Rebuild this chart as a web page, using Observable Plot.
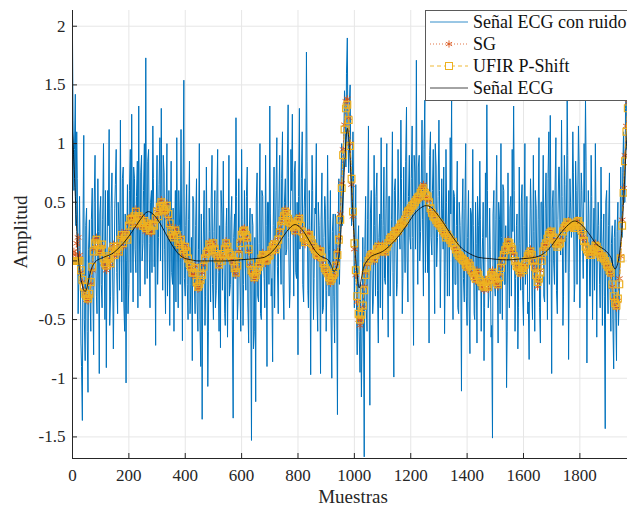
<!DOCTYPE html>
<html>
<head>
<meta charset="utf-8">
<script src="https://cdn.jsdelivr.net/npm/d3@7"></script>
<script src="https://cdn.jsdelivr.net/npm/@observablehq/plot@0.6"></script>
<style>
  body { margin: 0; background: #fff; }
  #wrap { position: relative; width: 627px; height: 506px; overflow: hidden; font-family: "Liberation Serif", "Times New Roman", serif; }
  #overlay { position: absolute; left: 0; top: 0; pointer-events: none; }
</style>
</head>
<body>
<div id="wrap">
  <div id="chart"></div>
  <svg id="overlay" width="627" height="506"></svg>
</div>
<script>
// ---- Data ----
const xTicks = [0, 200, 400, 600, 800, 1000, 1200, 1400, 1600, 1800];
const yTicks = [-1.5, -1, -0.5, 0, 0.5, 1, 1.5, 2];
const xDomain = [0, 1969];
const yDomain = [-1.684, 2.134];

// Noisy ECG: samples 0,5,10,... (noisyA) and 2,7,12,... (noisyB)
const noisyStep = 5;
const noisyA = [
  1.9, 0.6, 1.42, 1.1, -0.45, 0.55, -0.7, -1.36, 1.07, -0.85, 0.45, -1.12, 0.35, -0.6, 0.62, -0.8, 0.9, -0.3, 0.7, -0.96,
  0.55, -0.4, 1.0, -0.5, -0.91, 0.6, 1.12, -0.3, 0.75, -0.75, 0.45, 0.95, -0.45, 0.3, 1.2, -0.35, 0.8, -0.6, -1.04, 0.65,
  -0.2, 0.95, 1.25, -0.35, 0.7, -0.1, 0.85, 1.32, -0.3, 0.9, 0.15, 1.0, 1.73, -0.15, 0.95, -0.4, 0.6, 1.15, -0.05, -0.72,
  0.9, 0.2, 1.05, 1.3, -0.25, 0.75, -0.45, 1.0, 0.2, -0.55, 0.85, -0.2, -0.6, 0.6, 1.05, -0.4, 0.3, 1.12, -0.68, 1.54,
  -0.3, 0.65, -0.5, 0.85, -0.2, -0.85, 0.5, -0.45, 0.7, -0.6, 1.0, -0.9, -1.35, 0.35, -0.55, 0.8, -1.07, 0.45, -0.35, 0.9,
  -0.5, 0.6, -0.25, 0.95, -0.6, -0.74, 0.4, 0.85, -0.45, 0.3, -0.65, 0.9, -0.2, 0.55, -1.34, 0.4, 1.22, -0.5, 0.7, -0.3,
  0.95, -0.55, 0.6, -0.25, 0.8, -0.7, 0.45, -1.53, 0.3, -0.6, -1.2, 0.75, -0.35, 1.0, -0.5, 0.55, -0.15, 0.9, -0.9, 0.5,
  1.32, -0.3, -0.86, 0.8, 0.2, 1.05, -0.45, 0.9, -0.2, 1.1, -0.5, 0.7, 0.1, 1.33, -0.4, 0.95, 1.25, -0.3, 0.85, -0.15,
  -0.8, 1.3, 0.3, 1.1, -0.35, 0.7, 1.78, -0.25, 0.6, -0.97, 0.9, -0.5, 0.45, 1.0, -0.6, 0.3, -0.96, 0.75, -0.4, 0.55,
  -0.6, 0.9, -0.3, 0.6, -1.0, 0.4, -0.7, 0.35, -1.31, 0.7, 0.2, 1.0, 0.45, 1.45, 0.8, 1.9, 0.75, 1.5, 0.3, 1.1,
  -0.4, 0.65, -0.8, 0.3, -0.95, -1.16, 0.2, -1.67, 0.55, -0.6, 1.15, -1.23, 0.6, -0.45, 0.9, -0.3, 0.75, -0.7, 0.4, 1.05,
  -0.5, 0.8, -0.2, 1.0, -0.65, 0.55, 0.1, 1.1, -0.99, 0.7, -0.3, 0.95, 0.2, 1.2, -0.45, 0.8, -0.1, 1.31, -0.35, 0.9,
  0.1, 1.15, -0.72, 0.75, 1.71, -0.2, 0.9, 0.25, 1.2, -0.3, 1.37, 0.4, -0.1, -0.7, 1.1, 0.05, 0.95, -0.45, 0.8, 0.2,
  1.2, -0.4, 0.7, 0.1, -0.62, 0.95, -0.3, 0.6, 1.05, 1.37, -0.5, 0.55, -0.2, 0.85, -0.45, 0.3, -1.11, 0.7, -0.35, 1.0,
  -0.55, 0.6, -0.79, 0.4, 0.95, -0.45, 0.5, -0.7, 0.3, 0.85, -0.6, 0.2, -0.85, 0.75, 1.33, -0.4, 0.45, -0.65, -1.51, 0.6,
  -0.3, 0.9, -0.7, 0.35, 1.0, -0.5, 0.6, -0.2, -1.08, 0.75, -0.4, 0.55, 0.95, 1.32, -0.6, 0.3, -0.75, 0.8, -0.25, 0.65,
  -0.55, 1.0, 0.1, -0.45, -0.84, 0.7, -0.3, 0.9, -0.6, 0.45, -0.2, 1.05, -0.7, 0.5, 0.9, -0.35, 0.75, -0.5, 1.1, 1.24,
  -0.96, 0.6, -0.2, 1.05, -0.45, 0.8, 0.15, 1.2, -0.55, 0.9, -0.1, 1.37, -0.84, 0.7, 0.2, 1.1, -0.35, 0.85, -0.2, 1.15,
  -0.4, 0.75, 0.1, 1.0, 1.37, -0.87, 0.6, -0.3, 0.9, -0.5, 0.45, 1.0, -0.65, 0.5, -0.2, 0.8, -0.55, 0.4, -1.43, 0.6,
  -0.45, 0.75, -0.6, 0.3, -0.92, 0.35, -0.85, 0.5, -0.3, 0.8, 0.2, 1.1, 0.5, 1.6
];
const noisyB = [
  1.2, 0.95, 0.3, 0.7, -0.2, 0.1, -0.9, 0.2, -0.5, 0.3, -0.6, 0.1, -0.3, 0.35, -0.15, 0.5, 0.05, -0.45, 0.25, 0.4,
  -0.2, 0.35, 0.15, 0.6, -0.1, 0.3, -0.55, 0.45, 0.05, -0.3, 0.65, -0.1, 0.5, -0.25, 0.2, 0.7, -0.35, 0.4, 0.0, -0.45,
  0.6, -0.1, 0.45, 0.8, 0.1, 0.55, -0.4, 0.3, 0.75, 0.0, 0.6, -0.2, 0.4, 0.85, 0.15, 0.5, -0.1, 0.7, 0.3, 0.45,
  -0.2, 0.65, 0.0, 0.5, 0.9, 0.1, 0.4, -0.3, 0.6, 0.2, -0.1, 0.45, 0.15, -0.35, 0.3, 0.6, -0.2, 0.25, 0.5, -0.15,
  0.3, -0.2, 0.35, -0.45, 0.2, 0.55, -0.15, 0.3, -0.35, 0.1, -0.5, 0.4, -0.1, 0.6, -0.3, 0.15, -0.6, 0.25, 0.5, -0.2,
  0.25, -0.4, 0.5, -0.1, 0.3, 0.6, -0.25, 0.1, -0.55, 0.45, 0.05, -0.3, 0.35, -0.5, 0.2, -0.15, 0.55, -0.35, 0.15, -0.6,
  0.35, -0.2, 0.1, 0.55, -0.35, 0.25, -0.1, 0.4, -0.75, 0.2, 0.5, -0.3, 0.15, -0.45, 0.6, 0.05, -0.4, 0.3, 0.5, -0.2,
  0.4, -0.15, 0.3, -0.4, 0.6, -0.05, 0.45, 0.15, 0.7, -0.2, 0.5, 0.05, 0.8, 0.2, -0.25, 0.6, 0.35, 0.75, -0.1, 0.5,
  0.55, 0.1, 0.7, -0.2, 0.45, 0.2, 0.85, -0.4, 0.3, 0.05, 0.6, -0.15, 0.4, -0.3, 0.5, 0.0, 0.35, -0.45, 0.2, 0.45,
  -0.25, 0.35, 0.1, -0.45, 0.25, -0.3, 0.4, -0.1, 0.2, -0.2, 0.65, 0.3, 0.95, 1.3, 1.6, 1.1, 1.35, 0.9, 0.55, 0.7,
  0.2, -0.3, 0.1, -0.6, -0.2, -0.7, -0.35, 0.1, -0.4, 0.35, -0.15, 0.4, 0.0, -0.35, 0.3, 0.55, -0.25, 0.2, -0.4, 0.35,
  0.3, -0.15, 0.45, 0.05, 0.55, -0.3, 0.35, -0.1, 0.6, 0.25, -0.2, 0.5, 0.1, 0.7, -0.15, 0.4, 0.85, 0.05, 0.55, 0.2,
  0.7, 0.2, 0.9, 0.1, 0.5, 0.8, 0.0, 0.6, 0.35, 0.95, -0.1, 0.75, 0.4, 0.9, 0.2, 0.6, 0.3, 1.0, -0.05, 0.55,
  0.6, 0.05, 0.45, 0.8, -0.1, 0.5, 0.2, -0.3, 0.4, 0.15, 0.6, -0.2, 0.3, -0.4, 0.5, 0.05, 0.35, -0.15, 0.45, -0.3,
  0.2, -0.35, 0.45, -0.1, 0.3, -0.5, 0.15, 0.55, -0.25, 0.35, -0.1, 0.5, -0.4, 0.2, 0.6, -0.3, 0.1, -0.55, 0.4, -0.2,
  0.35, -0.1, 0.5, -0.45, 0.2, 0.65, -0.2, 0.3, -0.6, 0.1, 0.45, -0.3, 0.25, 0.6, -0.15, 0.4, -0.4, 0.15, 0.5, -0.25,
  0.3, -0.2, 0.55, -0.35, 0.15, 0.45, -0.5, 0.25, 0.6, -0.1, 0.35, -0.4, 0.5, 0.05, -0.3, 0.45, 0.15, 0.7, -0.2, 0.5,
  0.45, 0.0, 0.6, -0.25, 0.35, 0.8, 0.05, 0.55, -0.3, 0.65, 0.2, 0.9, -0.1, 0.5, 0.3, 0.75, -0.2, 0.6, 0.4, 0.85,
  0.2, 0.6, -0.15, 0.5, 0.85, 0.0, 0.4, -0.3, 0.55, 0.1, -0.25, 0.45, 0.05, 0.3, -0.4, 0.35, 0.1, -0.3, 0.5, -0.1,
  0.3, -0.2, 0.15, -0.5, 0.2, -0.4, 0.25, -0.55, 0.1, 0.4, 0.75, 0.5, 1.3, 0.95
];

// Filter outputs: samples 0,10,20,... (A) and 5,15,25,... (B)
const filtStep = 10;
const sgA = [
  0, 0.05, 0.2, -0.1, -0.25, -0.33, -0.3, -0.08, 0.18, 0.12,
  0.08, -0.02, -0.08, 0.0, 0.1, 0.04, 0.14, 0.2, 0.12, 0.25,
  0.32, 0.38, 0.36, 0.3, 0.38, 0.28, 0.25, 0.32, 0.24, 0.33,
  0.44, 0.48, 0.45, 0.42, 0.37, 0.22, 0.21, 0.24, 0.12, 0.08,
  0.13, 0.0, -0.08, -0.12, -0.2, -0.23, -0.1, 0.04, 0.1, 0.14,
  0.16, 0.04, -0.05, 0.02, 0.12, 0.1, 0.03, -0.03, -0.12, 0.08,
  0.24, 0.28, 0.18, -0.04, -0.12, -0.14, -0.03, 0.03, 0.02, 0.0,
  0.07, 0.14, 0.08, 0.2, 0.32, 0.4, 0.42, 0.31, 0.34, 0.24,
  0.36, 0.28, 0.18, 0.2, 0.24, 0.13, 0.08, 0.03, 0.1, -0.04,
  -0.1, -0.16, -0.17, -0.12, 0.08, 0.4, 0.95, 1.36, 1.22, 0.65,
  0.1, -0.35, -0.55, -0.4, -0.1, 0.02, 0.07, 0.0, 0.12, 0.06,
  0.14, 0.06, 0.17, 0.22, 0.2, 0.27, 0.3, 0.3, 0.37, 0.44,
  0.43, 0.5, 0.54, 0.53, 0.63, 0.6, 0.53, 0.43, 0.4, 0.33,
  0.3, 0.3, 0.22, 0.24, 0.16, 0.18, 0.08, 0.03, 0.04, -0.02,
  -0.07, -0.02, -0.12, -0.17, -0.1, -0.2, -0.25, -0.18, -0.18, -0.08,
  -0.17, -0.22, -0.04, 0.07, 0.14, 0.13, 0.08, -0.02, -0.07, -0.12,
  -0.06, 0.02, 0.08, 0.03, -0.07, -0.22, -0.08, 0.1, 0.13, 0.24,
  0.23, 0.16, 0.14, 0.17, 0.27, 0.28, 0.34, 0.28, 0.3, 0.35,
  0.28, 0.2, 0.14, 0.06, 0.07, 0.12, 0.1, 0.04, 0.06, -0.02,
  -0.07, -0.12, -0.33, -0.4, -0.15, 0.35, 0.9, 1.35
];
const sgB = [
  0.08, 0.15, 0.05, -0.18, -0.3, -0.34, -0.2, 0.1, 0.2, 0.06,
  0.12, -0.05, 0.02, -0.04, 0.14, 0.08, 0.06, 0.24, 0.18, 0.2,
  0.37, 0.3, 0.44, 0.35, 0.3, 0.36, 0.3, 0.24, 0.33, 0.38,
  0.4, 0.52, 0.41, 0.49, 0.3, 0.2, 0.28, 0.14, 0.2, 0.04,
  0.1, -0.05, -0.12, -0.04, -0.24, -0.18, -0.03, 0.08, 0.16, 0.07,
  0.12, 0.0, 0.05, 0.04, 0.17, 0.05, 0.01, -0.08, -0.06, 0.17,
  0.27, 0.2, 0.08, -0.1, -0.16, -0.1, 0.0, 0.07, -0.02, 0.06,
  0.1, 0.16, 0.12, 0.26, 0.36, 0.44, 0.34, 0.28, 0.31, 0.29,
  0.38, 0.23, 0.14, 0.24, 0.16, 0.1, 0.04, 0.1, 0.01, -0.08,
  -0.12, -0.19, -0.14, -0.02, 0.2, 0.66, 1.16, 1.38, 1.0, 0.38,
  -0.12, -0.5, -0.5, -0.22, -0.03, 0.05, 0.04, 0.07, 0.14, 0.08,
  0.12, 0.1, 0.2, 0.18, 0.27, 0.24, 0.33, 0.31, 0.41, 0.45,
  0.45, 0.52, 0.52, 0.6, 0.65, 0.54, 0.52, 0.39, 0.39, 0.31,
  0.32, 0.24, 0.22, 0.18, 0.17, 0.11, 0.09, 0.02, 0.03, -0.05,
  0.0, -0.1, -0.15, -0.08, -0.18, -0.23, -0.16, -0.24, -0.1, -0.15,
  -0.2, -0.12, 0.02, 0.11, 0.18, 0.1, 0.06, -0.06, -0.1, -0.04,
  -0.05, 0.06, 0.1, -0.02, -0.14, -0.17, 0.02, 0.14, 0.17, 0.26,
  0.18, 0.13, 0.16, 0.18, 0.3, 0.31, 0.31, 0.29, 0.32, 0.32,
  0.24, 0.19, 0.08, 0.07, 0.06, 0.15, 0.07, 0.05, 0.0, -0.05,
  -0.1, -0.22, -0.38, -0.34, 0.04, 0.62, 1.15
];
const ufirA = [
  0, 0, 0, -0.08, -0.22, -0.3, -0.28, -0.05, 0.15, 0.14,
  0.1, 0.02, -0.04, 0.02, 0.08, 0.05, 0.12, 0.18, 0.15, 0.22,
  0.3, 0.36, 0.38, 0.33, 0.36, 0.3, 0.28, 0.3, 0.26, 0.3,
  0.42, 0.46, 0.47, 0.44, 0.4, 0.25, 0.2, 0.22, 0.14, 0.1,
  0.12, 0.02, -0.05, -0.1, -0.18, -0.2, -0.12, 0.02, 0.08, 0.12,
  0.15, 0.06, -0.03, 0.0, 0.1, 0.12, 0.05, 0.0, -0.1, 0.05,
  0.22, 0.26, 0.2, -0.02, -0.1, -0.12, -0.05, 0.02, 0.04, 0.01,
  0.05, 0.12, 0.1, 0.18, 0.3, 0.38, 0.4, 0.33, 0.32, 0.26,
  0.34, 0.3, 0.2, 0.18, 0.22, 0.15, 0.1, 0.05, 0.08, -0.02,
  -0.08, -0.14, -0.15, -0.1, 0.05, 0.35, 0.9, 1.3, 1.2, 0.7,
  0.15, -0.3, -0.5, -0.38, -0.12, 0.0, 0.05, 0.02, 0.1, 0.08,
  0.12, 0.08, 0.15, 0.2, 0.22, 0.25, 0.28, 0.32, 0.35, 0.42,
  0.45, 0.48, 0.52, 0.55, 0.6, 0.58, 0.55, 0.45, 0.38, 0.35,
  0.32, 0.28, 0.24, 0.22, 0.18, 0.16, 0.1, 0.05, 0.02, 0.0,
  -0.05, -0.04, -0.1, -0.15, -0.12, -0.18, -0.22, -0.2, -0.16, -0.1,
  -0.15, -0.2, -0.06, 0.05, 0.12, 0.15, 0.1, 0.0, -0.05, -0.1,
  -0.08, 0.0, 0.06, 0.05, -0.05, -0.18, -0.1, 0.08, 0.15, 0.22,
  0.25, 0.18, 0.12, 0.15, 0.25, 0.3, 0.32, 0.3, 0.28, 0.33,
  0.3, 0.22, 0.12, 0.08, 0.05, 0.1, 0.12, 0.06, 0.04, 0.0,
  -0.05, -0.1, -0.3, -0.38, -0.2, 0.3, 0.85, 1.3
];
const ufirB = [
  0, 0, 0.0, -0.16, -0.28, -0.32, -0.18, 0.08, 0.18, 0.08,
  0.14, -0.02, 0.04, -0.02, 0.12, 0.1, 0.08, 0.22, 0.2, 0.18,
  0.35, 0.32, 0.42, 0.38, 0.32, 0.34, 0.32, 0.26, 0.31, 0.36,
  0.38, 0.5, 0.43, 0.47, 0.32, 0.22, 0.26, 0.16, 0.18, 0.06,
  0.08, -0.02, -0.1, -0.06, -0.22, -0.16, -0.05, 0.06, 0.14, 0.09,
  0.1, 0.02, 0.03, 0.06, 0.15, 0.07, 0.03, -0.06, -0.04, 0.15,
  0.25, 0.22, 0.1, -0.08, -0.14, -0.08, -0.02, 0.05, 0.0, 0.04,
  0.09, 0.14, 0.14, 0.24, 0.34, 0.42, 0.36, 0.3, 0.29, 0.31,
  0.36, 0.25, 0.16, 0.22, 0.18, 0.12, 0.06, 0.08, 0.03, -0.06,
  -0.1, -0.17, -0.12, -0.04, 0.18, 0.62, 1.12, 1.33, 0.98, 0.42,
  -0.08, -0.45, -0.46, -0.25, -0.05, 0.03, 0.06, 0.05, 0.12, 0.1,
  0.1, 0.12, 0.18, 0.2, 0.25, 0.26, 0.31, 0.33, 0.39, 0.43,
  0.47, 0.5, 0.54, 0.58, 0.62, 0.56, 0.5, 0.41, 0.37, 0.33,
  0.3, 0.26, 0.2, 0.2, 0.15, 0.13, 0.07, 0.04, 0.01, -0.03,
  -0.02, -0.08, -0.13, -0.1, -0.16, -0.21, -0.18, -0.22, -0.12, -0.13,
  -0.18, -0.14, 0.0, 0.09, 0.16, 0.12, 0.04, -0.04, -0.08, -0.06,
  -0.03, 0.04, 0.08, 0.0, -0.12, -0.15, 0.0, 0.12, 0.19, 0.24,
  0.2, 0.15, 0.14, 0.2, 0.28, 0.33, 0.29, 0.31, 0.3, 0.34,
  0.26, 0.17, 0.1, 0.05, 0.08, 0.13, 0.09, 0.03, 0.02, -0.03,
  -0.08, -0.2, -0.36, -0.32, 0.02, 0.58, 1.1
];

// Clean ECG, sample positions and values
const cleanX = [0,5,10,15,20,25,30,35,40,45,50,55,60,70,80,90,100,120,140,160,180,200,220,240,260,270,280,300,320,340,360,380,400,420,440,460,500,550,600,650,680,700,720,740,760,780,790,800,820,840,860,880,900,910,920,927,935,945,955,965,970,975,980,990,1000,1010,1017,1025,1035,1045,1060,1080,1100,1130,1160,1190,1220,1250,1270,1290,1320,1350,1380,1410,1440,1480,1520,1560,1600,1640,1670,1700,1730,1760,1780,1800,1830,1860,1890,1910,1918,1925,1932,1940,1950,1958,1964,1969];
const cleanY = [1.1,0.85,0.55,0.25,0.05,-0.07,-0.15,-0.21,-0.25,-0.26,-0.24,-0.19,-0.13,-0.05,-0.01,0.01,0.02,0.04,0.06,0.1,0.15,0.21,0.28,0.35,0.41,0.42,0.41,0.36,0.28,0.19,0.11,0.05,0.02,0.01,0.0,0.0,0.0,0.0,0.01,0.02,0.03,0.06,0.11,0.18,0.25,0.3,0.31,0.3,0.25,0.17,0.09,0.04,0.02,0.0,-0.05,-0.09,-0.07,0.05,0.35,0.8,1.02,1.13,1.05,0.62,0.18,-0.12,-0.23,-0.15,-0.04,0.0,0.04,0.06,0.08,0.14,0.22,0.32,0.42,0.47,0.46,0.41,0.31,0.2,0.11,0.06,0.03,0.02,0.01,0.01,0.02,0.03,0.06,0.13,0.23,0.31,0.34,0.32,0.24,0.14,0.09,0.03,-0.04,-0.07,-0.04,0.05,0.3,0.65,0.95,1.12];

const seriesNames = ["Señal ECG con ruido", "SG", "UFIR P-Shift", "Señal ECG"];
const axisLabels = { x: "Muestras", y: "Amplitud" };
const colors = { noisy: "#0072BD", sg: "#D95319", ufir: "#EDB120", clean: "#000000", axis: "#262626", grid: "#e6e6e6" };

// ---- Build tables ----
const merge = (a, b, step, offB) =>
  a.map((y, i) => ({ x: i * step, y }))
   .concat(b.map((y, i) => ({ x: i * step + offB, y })))
   .sort((p, q) => p.x - q.x);
const noisy = merge(noisyA, noisyB, noisyStep, 2);
const sg = merge(sgA, sgB, filtStep, 5);
const ufir = merge(ufirA, ufirB, filtStep, 5);
const clean = cleanX.map((x, i) => ({ x, y: cleanY[i] }));

const W = 627, H = 506, mL = 72, mR = 0, mT = 10, mB = 48;
const frameW = W - mL - mR, frameH = H - mT - mB;

const chart = Plot.plot({
  width: W, height: H,
  marginLeft: mL, marginRight: mR, marginTop: mT, marginBottom: mB,
  style: { fontFamily: "Liberation Serif, Times New Roman, serif", fontSize: "17px", background: "white", color: colors.axis },
  x: { domain: xDomain },
  y: { domain: yDomain },
  marks: [
    Plot.gridX(xTicks, { stroke: colors.grid, strokeOpacity: 1 }),
    Plot.gridY(yTicks, { stroke: colors.grid, strokeOpacity: 1 }),
    Plot.line(noisy, { x: "x", y: "y", stroke: colors.noisy, strokeWidth: 1, clip: true }),
    Plot.line(sg, { x: "x", y: "y", stroke: colors.sg, strokeWidth: 0.8, strokeDasharray: "1,2", clip: true }),
    Plot.dot(sg, { x: "x", y: "y", symbol: "asterisk", r: 3.6, stroke: colors.sg, strokeWidth: 0.9, clip: true }),
    Plot.line(ufir, { x: "x", y: "y", stroke: colors.ufir, strokeWidth: 1, strokeDasharray: "4,3", clip: true }),
    Plot.dot(ufir, { x: "x", y: "y", symbol: "square", r: 3.8, stroke: colors.ufir, fill: "none", strokeWidth: 1.2, clip: true }),
    Plot.line(clean, { x: "x", y: "y", stroke: colors.clean, strokeWidth: 0.8, curve: "catmull-rom", clip: true }),
    Plot.ruleX([xDomain[0]], { stroke: colors.axis, strokeWidth: 1 }),
    Plot.ruleY([yDomain[0]], { stroke: colors.axis, strokeWidth: 1 }),
    Plot.tickX(xTicks, { stroke: colors.axis, insetTop: frameH - 5 }),
    Plot.tickY(yTicks, { stroke: colors.axis, insetRight: frameW - 5 }),
    Plot.axisX(xTicks, { tickSize: 0, tickPadding: 10, label: null, fontSize: 17, fill: colors.axis, tickFormat: d => String(d) }),
    Plot.axisY(yTicks, { tickSize: 0, tickPadding: 7, label: null, fontSize: 17, fill: colors.axis, tickFormat: d => String(d) })
  ]
});
document.getElementById("chart").appendChild(chart);

// ---- Overlay: axis titles and legend ----
const ov = d3.select("#overlay");
const serif = "Liberation Serif, Times New Roman, serif";
ov.append("text").attr("x", 353).attr("y", 503).attr("text-anchor", "middle")
  .attr("font-family", serif).attr("font-size", 19).attr("fill", colors.axis).text(axisLabels.x);
ov.append("text").attr("transform", "translate(27,232) rotate(-90)").attr("text-anchor", "middle")
  .attr("font-family", serif).attr("font-size", 19).attr("fill", colors.axis).text(axisLabels.y);

const leg = ov.append("g").attr("transform", "translate(425,10)");
leg.append("rect").attr("x", 0.5).attr("y", 0.5).attr("width", 214).attr("height", 90)
  .attr("fill", "white").attr("stroke", "#5a5a5a").attr("stroke-width", 1);
const rows = [
  { name: seriesNames[0], color: colors.noisy, dash: null, sym: null, w: 0.8 },
  { name: seriesNames[1], color: colors.sg, dash: "1,2", sym: "asterisk", w: 0.8 },
  { name: seriesNames[2], color: colors.ufir, dash: "4,3", sym: "square", w: 0.9 },
  { name: seriesNames[3], color: "#333", dash: null, sym: null, w: 0.9 }
];
rows.forEach((r, i) => {
  const cy = 12 + i * 22;
  const g = leg.append("g");
  g.append("line").attr("x1", 5).attr("x2", 43).attr("y1", cy).attr("y2", cy)
    .attr("stroke", r.color).attr("stroke-width", r.w).attr("stroke-dasharray", r.dash);
  if (r.sym === "asterisk") {
    g.append("path").attr("transform", `translate(24,${cy})`)
      .attr("d", d3.symbol(d3.symbolAsterisk, 36)()).attr("stroke", r.color).attr("fill", "none").attr("stroke-width", 0.9);
  } else if (r.sym === "square") {
    g.append("rect").attr("x", 20.5).attr("y", cy - 3.5).attr("width", 7).attr("height", 7)
      .attr("fill", "white").attr("stroke", r.color).attr("stroke-width", 1);
  }
  g.append("text").attr("x", 48).attr("y", cy).attr("dy", "0.35em")
    .attr("font-family", serif).attr("font-size", 18).attr("fill", "#111").text(r.name);
});
</script>
</body>
</html>
